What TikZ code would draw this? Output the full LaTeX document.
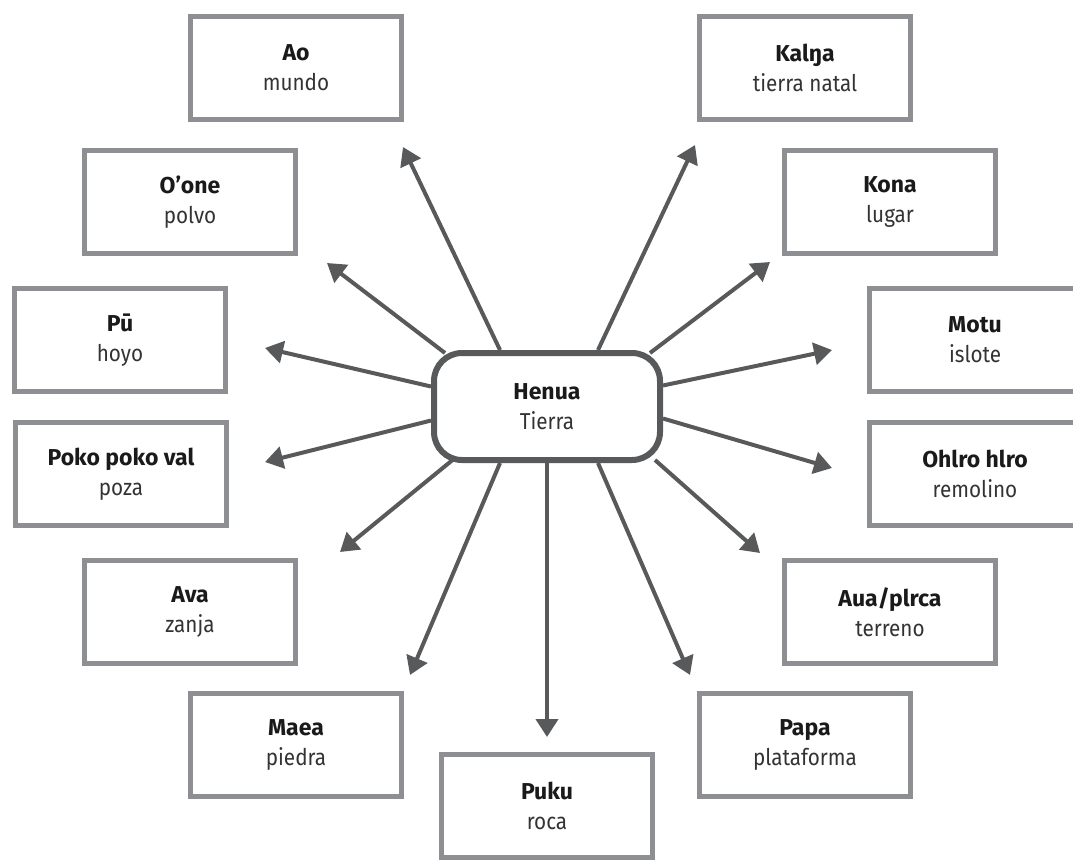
\documentclass[tikz,border=0pt]{standalone}
\usepackage{fontspec}
\setmainfont{Fira Sans}[FakeStretch=0.9, BoldFeatures={FakeStretch=1.0}]
\usetikzlibrary{arrows.meta}
\definecolor{boxgray}{HTML}{8E8F93}
\definecolor{arrowgray}{HTML}{58595B}
\definecolor{inkdark}{HTML}{1A1A1A}
\definecolor{inkgray}{HTML}{333333}
% two-line label: bold word, translation below
\newcommand{\wordpair}[2]{{\color{inkdark}\bfseries #1}\\{\color{inkgray}#2}}

\begin{document}
\begin{tikzpicture}[x=1pt,y=-1pt,
  term/.style={draw=boxgray, line width=5.5pt, fill=white,
    minimum width=211pt, minimum height=103pt, inner sep=0pt,
    align=center, font=\fontsize{23}{30}\selectfont},
  hub/.style={draw=arrowgray, line width=6pt, rounded corners=28pt, fill=white,
    minimum width=226pt, minimum height=107pt, inner sep=0pt,
    align=center, font=\fontsize{23}{30}\selectfont},
  ray/.style={draw=arrowgray, line width=4pt,
    -{Triangle[length=18pt,width=22pt]}}]
\useasboundingbox (0,0) rectangle (1073,861);

% centre word
\node[hub] (henua) at (547,406.5) {\wordpair{Henua}{Tierra}};

% surrounding words
\node[term] (ao)    at (296,68)  {\wordpair{Ao}{mundo}};
\node[term] (kalna) at (805,68)  {\wordpair{Kalŋa}{tierra natal}};
\node[term] (oone)  at (190,202) {\wordpair{O’one}{polvo}};
\node[term] (kona)  at (890,202) {\wordpair{Kona}{lugar}};
\node[term] (pu)    at (120,340) {\wordpair{Pū}{hoyo}};
\node[term] (motu)  at (975,340) {\wordpair{Motu}{islote}};
\node[term] (poko)  at (121,474) {\wordpair{Poko poko val}{poza}};
\node[term] (ohiro) at (975,474) {\wordpair{Ohlro hlro}{remolino}};
\node[term] (ava)   at (190,612) {\wordpair{Ava}{zanja}};
\node[term] (aua)   at (890,612) {\wordpair{Aua/plrca}{terreno}};
\node[term] (maea)  at (296,745) {\wordpair{Maea}{piedra}};
\node[term] (papa)  at (805,745) {\wordpair{Papa}{plataforma}};
\node[term] (puku)  at (547,806) {\wordpair{Puku}{roca}};

% arrow tips, each short of its word box
\coordinate (tAo)    at (403,147);
\coordinate (tKalna) at (695,145);
\coordinate (tOone)  at (327,263);
\coordinate (tKona)  at (770,262);
\coordinate (tPu)    at (265,348);
\coordinate (tMotu)  at (832,350);
\coordinate (tPoko)  at (265,462);
\coordinate (tOhiro) at (832,468);
\coordinate (tAva)   at (340,552);
\coordinate (tAua)   at (760,553);
\coordinate (tMaea)  at (410,675);
\coordinate (tPapa)  at (690,675);
\coordinate (tPuku)  at (547,737);

% rays from the centre box
\draw[ray] ([xshift=-47pt]henua.north) -- (tAo);
\draw[ray] ([xshift=51pt]henua.north) -- (tKalna);
\draw[ray] ([xshift=14pt,yshift=-3pt]henua.north west) -- (tOone);
\draw[ray] ([xshift=-13pt,yshift=-3pt]henua.north east) -- (tKona);
\draw[ray] ([yshift=20pt]henua.west) -- (tPu);
\draw[ray] ([yshift=21pt]henua.east) -- (tMotu);
\draw[ray] ([yshift=-14pt]henua.west) -- (tPoko);
\draw[ray] ([yshift=-12pt]henua.east) -- (tOhiro);
\draw[ray] ([xshift=24pt,yshift=5pt]henua.south west) -- (tAva);
\draw[ray] ([xshift=-8pt,yshift=3pt]henua.south east) -- (tAua);
\draw[ray] ([xshift=-47pt]henua.south) -- (tMaea);
\draw[ray] ([xshift=51pt]henua.south) -- (tPapa);
\draw[ray] (henua.south) -- (tPuku);
\end{tikzpicture}
\end{document}
